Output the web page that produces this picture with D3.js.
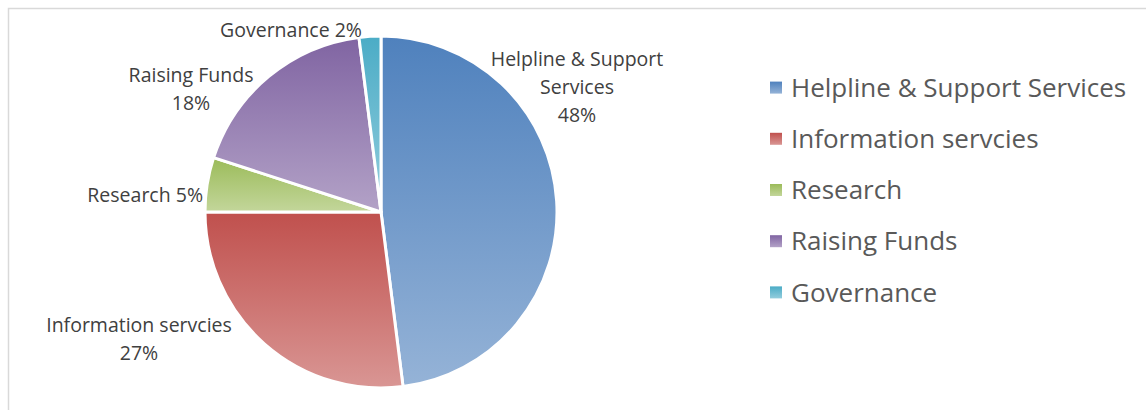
<!DOCTYPE html>
<html>
<head>
<meta charset="utf-8">
<script src="https://cdn.jsdelivr.net/npm/d3@7"></script>
<style>
body { margin: 0; background: #fff; }
svg text { font-family: "Open Sans", "Noto Sans", sans-serif; }
</style>
</head>
<body>
<div id="chart"></div>
<script>
var categories = ["Helpline & Support Services", "Information servcies", "Research", "Raising Funds", "Governance"];
var values = [48, 27, 5, 18, 2];
var labelLines = [["Helpline & Support", "Services", "48%"], ["Information servcies", "27%"], ["Research 5%"], ["Raising Funds", "18%"], ["Governance 2%"]];
var colorsTop = ["#4f81bd", "#c0504d", "#9bbb59", "#8064a2", "#4bacc6"];
var colorsBottom = ["#95b3d7", "#d99694", "#c3d69b", "#b3a2c7", "#93cddd"];

var width = 1146, height = 410;
var cx = 381, cy = 212, radius = 176;
// label anchors relative to pie centre (Excel "best fit" placement)
var labelAnchor = [[196, -153, "middle"], [-242, 113, "middle"], [-178, -17, "end"], [-190, -137, "middle"], [-90, -182, "middle"]];

var svg = d3.select("#chart").append("svg")
    .attr("width", width)
    .attr("height", height);

svg.append("rect")
    .attr("x", 8.5).attr("y", 8.5)
    .attr("width", width + 20).attr("height", height + 20)
    .attr("fill", "none")
    .attr("stroke", "#d9d9d9")
    .attr("stroke-width", 1.5);

var defs = svg.append("defs");
categories.forEach(function(c, i) {
    var g = defs.append("linearGradient")
        .attr("id", "grad" + i)
        .attr("x1", 0).attr("y1", 0).attr("x2", 0).attr("y2", 1);
    g.append("stop").attr("offset", "0%").attr("stop-color", colorsTop[i]);
    g.append("stop").attr("offset", "100%").attr("stop-color", colorsBottom[i]);
});

var pie = d3.pie().sort(null).value(function(d) { return d; });
var arc = d3.arc().innerRadius(0).outerRadius(radius);

var pg = svg.append("g").attr("transform", "translate(" + cx + "," + cy + ")");
pg.selectAll("path")
    .data(pie(values))
    .enter()
    .append("path")
    .attr("d", arc)
    .attr("fill", function(d, i) { return "url(#grad" + i + ")"; })
    .attr("stroke", "#fff")
    .attr("stroke-width", 3)
    .attr("stroke-linejoin", "round");

var lg = pg.selectAll("text.lbl")
    .data(labelLines)
    .enter()
    .append("text")
    .attr("class", "lbl")
    .attr("font-size", 19.5)
    .attr("fill", "#404040")
    .attr("text-anchor", function(d, i) { return labelAnchor[i][2]; })
    .attr("transform", function(d, i) { return "translate(" + labelAnchor[i][0] + "," + labelAnchor[i][1] + ")"; });
lg.selectAll("tspan")
    .data(function(d) { return d; })
    .enter()
    .append("tspan")
    .attr("x", 0)
    .attr("dy", function(d, j) { return j === 0 ? "0.35em" : 28; })
    .text(function(d) { return d; });

var y = d3.scaleBand().domain(categories).range([62, 318]);
var legend = svg.append("g").attr("class", "legend");
var items = legend.selectAll("g")
    .data(categories)
    .enter()
    .append("g")
    .attr("transform", function(d) { return "translate(770," + (y(d) + y.bandwidth() / 2) + ")"; });
items.append("rect")
    .attr("x", 0).attr("y", -6)
    .attr("width", 12).attr("height", 12)
    .attr("fill", function(d, i) { return "url(#grad" + i + ")"; });
items.append("text")
    .attr("x", 21)
    .attr("dy", "0.35em")
    .attr("font-size", 26)
    .attr("fill", "#595959")
    .text(function(d) { return d; });
</script>
</body>
</html>
